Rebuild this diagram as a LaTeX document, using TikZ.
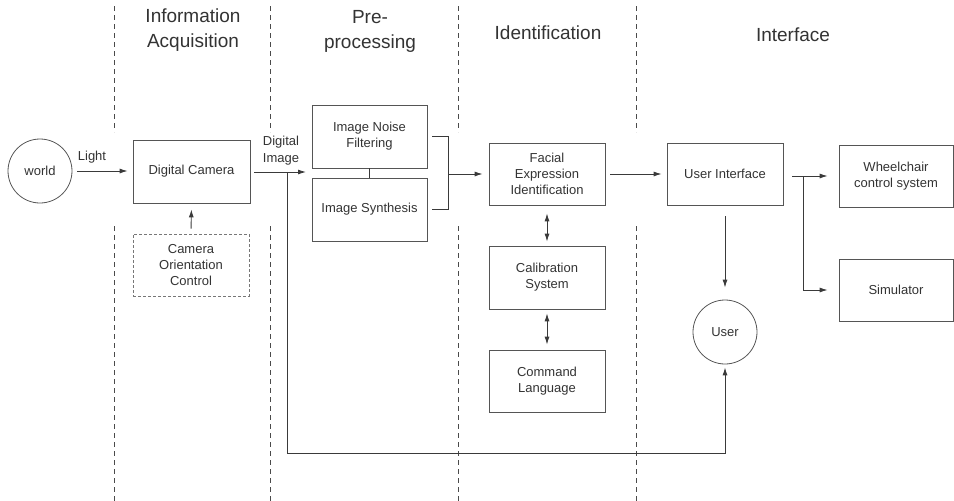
\documentclass[tikz,border=0pt]{standalone}
\usepackage{fontspec}
\setmainfont{Liberation Sans}
\usetikzlibrary{arrows.meta}
\definecolor{linec}{HTML}{3A3A3A}
\definecolor{boxc}{HTML}{555555}
\definecolor{txt}{HTML}{333333}
\definecolor{divc}{HTML}{4A4A4A}
\begin{document}
\begin{tikzpicture}[x=1pt,y=-1pt,
  font=\fontsize{13}{16}\selectfont,
  box/.style={draw=boxc, line width=0.8pt, minimum width=116pt, minimum height=62pt,
    align=center, text=txt, inner sep=2pt},
  dbox/.style={box, draw=boxc!80, densely dashed, line width=0.6pt},
  circ/.style={draw=boxc, line width=0.8pt, circle, minimum size=64pt, text=txt, inner sep=0pt},
  conn/.style={draw=linec, line width=0.9pt},
  arr/.style={conn, -{Latex[length=8pt,width=5pt]}},
  darr/.style={conn, {Latex[length=8pt,width=5pt]}-{Latex[length=8pt,width=5pt]}},
  divider/.style={draw=divc, line width=0.9pt, dash pattern=on 5pt off 4pt},
  head/.style={font=\fontsize{19}{25}\selectfont, text=txt, align=center},
  lbl/.style={text=txt, align=center, inner sep=1pt}
]
\useasboundingbox (0,0) rectangle (954,501);

% dividers
\foreach \x/\n in {114/a,270/b,458/c,636/d}{
  \coordinate (\n1) at (\x,6);
  \coordinate (\n2) at (\x,132);
  \coordinate (\n3) at (\x,226);
  \coordinate (\n4) at (\x,501);
  \draw[divider] (\n1) -- (\n2);
  \draw[divider] (\n3) -- (\n4);
}

% headers
\node[head] (h1) at (193,30) {Information\\Acquisition};
\node[head] (h2) at (370,31) {Pre-\\processing};
\node[head] (h3) at (548,33) {Identification};
\node[head] (h4) at (793,35) {Interface};

% nodes
\node[circ] (world) at (40,171) {world};
\node[box, minimum width=117pt, minimum height=63pt] (cam) at (191.5,171.5) {Digital Camera};
\node[dbox, minimum width=116pt, minimum height=62pt] (coc) at (191,265) {Camera\\Orientation\\Control};
\node[box, minimum width=115pt, minimum height=63pt] (noise) at (369.5,136.5) {Image Noise\\Filtering};
\node[box, minimum width=115pt, minimum height=63pt] (syn) at (369.5,209.5) {Image Synthesis};
\node[box] (fac) at (547,174) {Facial\\Expression\\Identification};
\node[box, minimum height=63pt] (cal) at (547,277.5) {Calibration\\System};
\node[box] (cmd) at (547,381) {Command\\Language};
\node[box] (ui) at (725,174) {User Interface};
\node[circ] (user) at (725,332) {User};
\node[box, minimum width=114pt] (wc) at (896,176) {Wheelchair\\control system};
\node[box, minimum width=114pt] (sim) at (896,290) {Simulator};

% labels
\node[lbl] (light) at (92,157) {Light};
\node[lbl, font=\fontsize{13}{17}\selectfont] (dimg) at (281,151) {Digital\\Image};

% helper coordinates
\coordinate (prein) at (306,172);
\coordinate (tap) at (287,172);
\coordinate (corner) at (287,453);
\coordinate (brkT) at (448,136.5);
\coordinate (brkB) at (448,209.5);
\coordinate (brkM) at (448,174);
\coordinate (uiout) at (792,176);
\coordinate (split) at (803,176);

% connectors
\draw[arr, shorten <=5pt, shorten >=5pt] (world.east) -- (cam.west |- world.east);
\draw[arr, shorten <=5pt, shorten >=6pt] (coc.north) -- (cam.south);
\draw[arr, shorten <=4pt] (cam.east |- prein) -- (prein);
\draw[arr, shorten >=3pt] (tap) -- (corner) -| (user.south);
\draw[conn] (noise.south) -- (syn.north);
\draw[conn] ([xshift=5pt]noise.east) -- (brkT) -- (brkB) -- ([xshift=5pt]syn.east);
\draw[arr, shorten >=6pt] (brkM) -- (fac.west);
\draw[arr, shorten <=5pt, shorten >=5pt] (fac.east) -- (ui.west);
\draw[darr, shorten <=8pt, shorten >=4pt] (fac.south) -- (cal.north);
\draw[darr, shorten <=4pt, shorten >=5pt] (cal.south) -- (cmd.north);
\draw[arr, shorten <=11pt, shorten >=12pt] (ui.south) -- (user.north);
\draw[arr, shorten >=11pt] (uiout) -- (wc.west);
\draw[arr, shorten >=11pt] (split) |- (sim.west);
\end{tikzpicture}
\end{document}
